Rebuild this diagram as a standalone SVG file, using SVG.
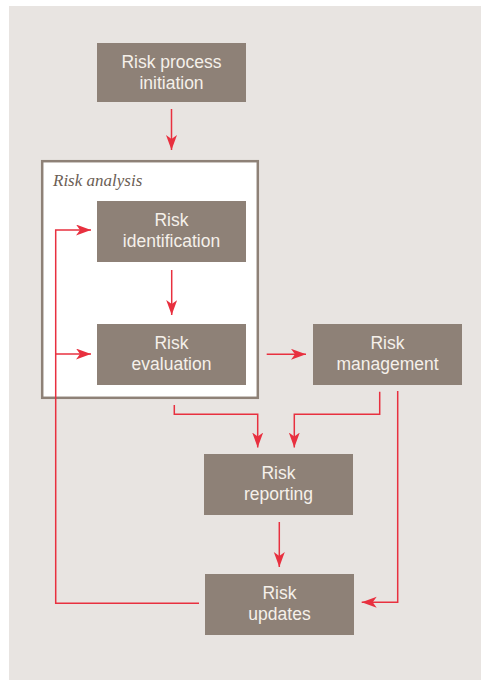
<svg xmlns="http://www.w3.org/2000/svg" width="481" height="680" viewBox="0 0 481 680">
<defs>
<marker id="ah" markerUnits="userSpaceOnUse" markerWidth="16" markerHeight="12" refX="15" refY="5.5" orient="auto">
<path d="M0,0 L15,5.5 L0,11 L4,5.5 Z" fill="#e8303f"/>
</marker>
<style>
.box{fill:#8e8177}
.t{font-family:"Liberation Sans",Arial,sans-serif;font-size:17.5px;fill:#f5f0ea;text-anchor:middle}
.c{fill:none;stroke:#e8303f;stroke-width:1.5}
.a{marker-end:url(#ah)}
</style>
</defs>
<rect x="0" y="0" width="481" height="680" fill="#ffffff"/>
<rect x="9" y="6" width="472" height="674" fill="#e8e4e1"/>
<g id="risk-analysis">
<rect x="42.2" y="161.2" width="215.6" height="236.6" fill="#ffffff" stroke="#8e8177" stroke-width="2.5"/>
<text x="53" y="186" font-family="'Liberation Serif','Times New Roman',serif" font-style="italic" font-size="17" fill="#6b5e55">Risk analysis</text>
</g>
<g id="connectors">
<path class="c a" d="M171.5,109 V150"/>
<path class="c a" d="M171.7,270 V315"/>
<path class="c a" d="M266.7,354.3 H306"/>
<path class="c a" d="M174.3,405 V414.3 H257.7 V447.5"/>
<path class="c a" d="M379.7,391.7 V414.3 H294.3 V447.5"/>
<path class="c a" d="M397.7,391 V602.3 H361.7"/>
<path class="c a" d="M279.3,522 V567"/>
<path class="c a" d="M199,603.3 H55.7 V230 H91"/>
<path class="c a" d="M55.7,354 H91"/>
</g>
<g id="risk-process-initiation">
<rect class="box" x="97" y="43" width="149" height="59"/>
<text class="t" x="171.5" y="68">Risk process</text>
<text class="t" x="171.5" y="89">initiation</text>
</g>
<g id="risk-identification">
<rect class="box" x="97" y="201" width="149" height="61"/>
<text class="t" x="171.5" y="226">Risk</text>
<text class="t" x="171.5" y="247">identification</text>
</g>
<g id="risk-evaluation">
<rect class="box" x="97" y="324" width="149" height="61"/>
<text class="t" x="171.5" y="349">Risk</text>
<text class="t" x="171.5" y="370">evaluation</text>
</g>
<g id="risk-management">
<rect class="box" x="313" y="324" width="149" height="61"/>
<text class="t" x="387.5" y="349">Risk</text>
<text class="t" x="387.5" y="370">management</text>
</g>
<g id="risk-reporting">
<rect class="box" x="204" y="454" width="149" height="61"/>
<text class="t" x="278.5" y="479">Risk</text>
<text class="t" x="278.5" y="500">reporting</text>
</g>
<g id="risk-updates">
<rect class="box" x="205" y="574" width="149" height="61"/>
<text class="t" x="279.5" y="599">Risk</text>
<text class="t" x="279.5" y="620">updates</text>
</g>
</svg>
